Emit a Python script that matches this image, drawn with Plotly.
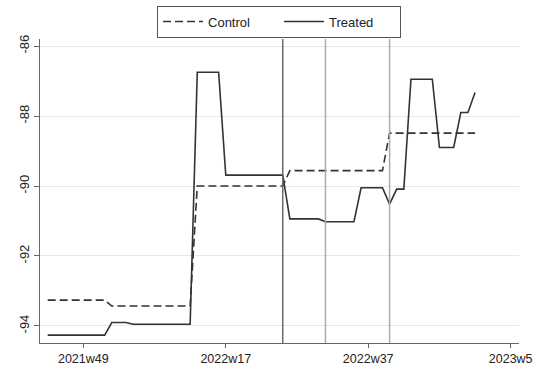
import plotly.graph_objects as go

# Stata weekly dates (weeks since 1960w1): 3215 = 2021w44 ... 3275 = 2022w52+
weeks = list(range(3215, 3276))

treated = ([-94.26] * 9 + [-93.90] * 3 + [-93.95] * 9 + [-86.75] * 4 + [-89.69] * 9 +
           [-90.94] * 5 + [-91.02] * 5 + [-90.05] * 4 + [-90.52] + [-90.09] * 2 +
           [-86.95] * 4 + [-88.90] * 3 + [-87.90] * 2 + [-87.33])
control = ([-93.26] * 9 + [-93.43] * 12 + [-90.00] * 13 + [-89.56] * 14 + [-88.49] * 13)

xtick_vals = [3220, 3240, 3260, 3280]
xtick_text = ["2021w49", "2022w17", "2022w37", "2023w5"]
ytick_vals = [-86, -88, -90, -92, -94]
ytick_text = ["-86", "-88", "-90", "-92", "-94"]
event_weeks = [3248, 3254, 3263]
event_colors = ["#6a6a6a", "#ababab", "#ababab"]

fig = go.Figure()
fig.add_trace(go.Scatter(x=weeks, y=control, mode="lines", name="Control",
                         line=dict(color="#333333", width=1.6, dash="8px,4px")))
fig.add_trace(go.Scatter(x=weeks, y=treated, mode="lines", name="Treated",
                         line=dict(color="#333333", width=1.6)))

for w, c in zip(event_weeks, event_colors):
    fig.add_shape(type="line", xref="x", yref="paper", x0=w, x1=w, y0=0, y1=1,
                  line=dict(color=c, width=1.5), layer="above")

font = dict(family="Liberation Sans, Arial, sans-serif", size=13, color="#222222")

fig.update_layout(
    width=539, height=366,
    margin=dict(l=40, r=20, t=39, b=23, autoexpand=False),
    paper_bgcolor="white", plot_bgcolor="white",
    font=font,
    showlegend=True,
    legend=dict(orientation="h", x=0.499, xanchor="center", y=1.11, yanchor="top",
                bordercolor="#555555", borderwidth=1, bgcolor="white",
                font=font, itemwidth=40, tracegroupgap=0,
                entrywidth=66, entrywidthmode="pixels"),
    xaxis=dict(range=[3213.92, 3281.17], tickvals=xtick_vals, ticktext=xtick_text,
               showgrid=False, zeroline=False, showline=True, linecolor="#666666",
               linewidth=1, ticks="outside", ticklen=4, tickcolor="#666666",
               tickfont=dict(family="Liberation Sans, Arial, sans-serif", size=12.5,
                             color="#222222")),
    yaxis=dict(range=[-94.486, -85.8], tickvals=ytick_vals, ticktext=ytick_text,
               tickangle=-90, showgrid=True, gridcolor="#e8e8e8", gridwidth=1,
               zeroline=False, showline=True, linecolor="#666666", linewidth=1,
               ticks="outside", ticklen=5, tickcolor="#666666"),
)

fig.write_html("out.html", config={"displayModeBar": False, "staticPlot": True},
               post_script="document.body.style.margin='0';document.body.style.overflow='hidden';")
